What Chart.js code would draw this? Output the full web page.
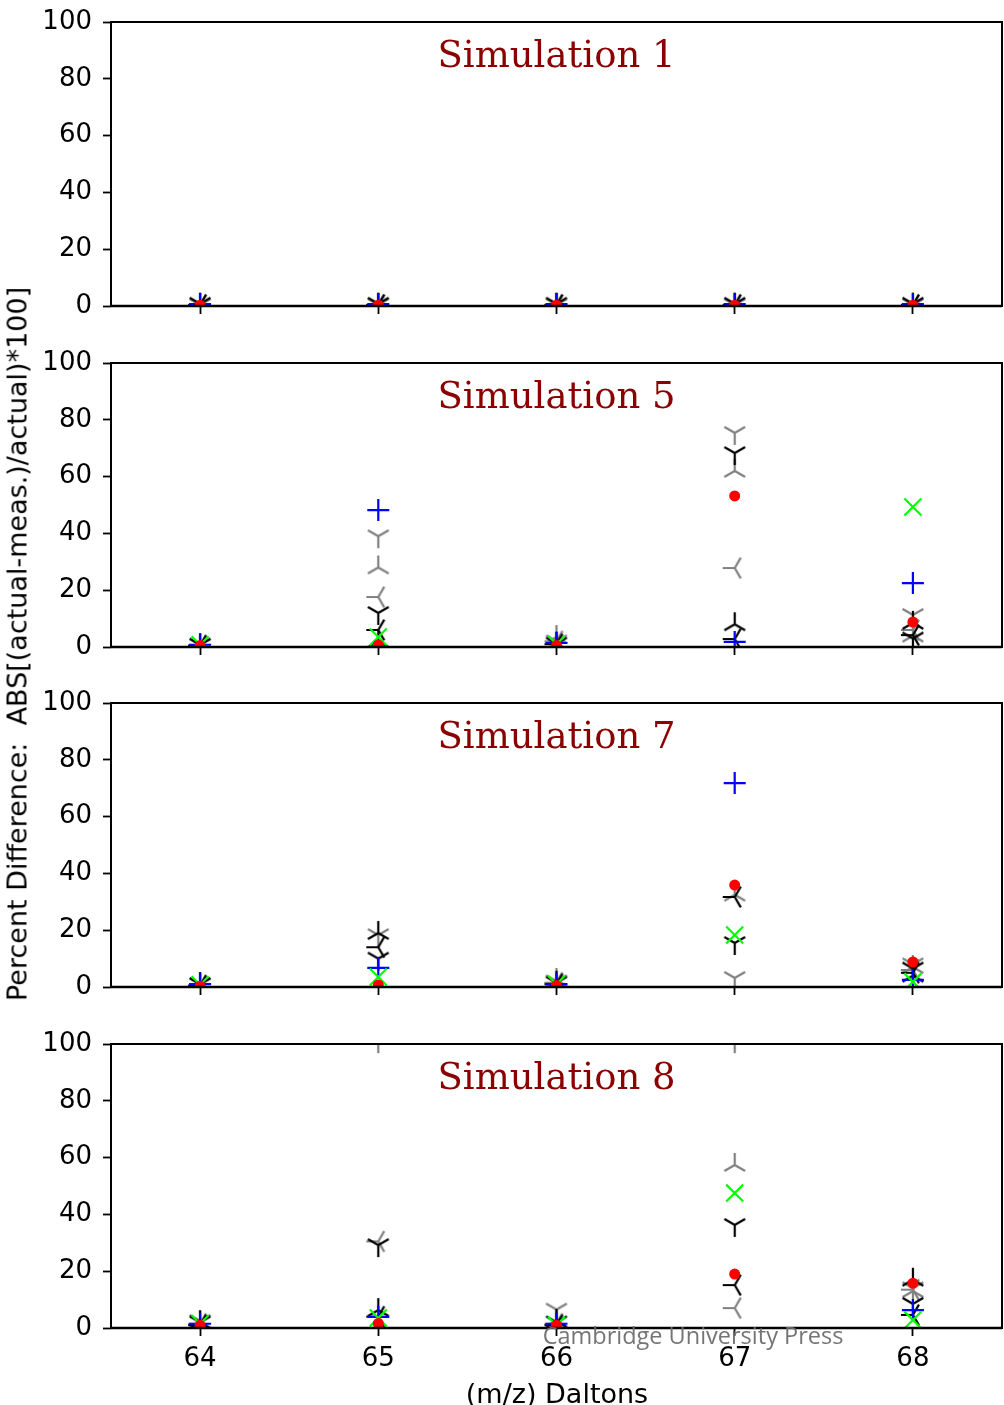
<!DOCTYPE html>
<html>
<head>
<meta charset="utf-8">
<script src="https://cdn.jsdelivr.net/npm/chart.js@4.4.1/dist/chart.umd.min.js"></script>
<style>
  html, body { margin: 0; padding: 0; background: #fff; }
  body { width: 1004px; height: 1405px; position: relative; overflow: hidden; font-family: "DejaVu Sans", sans-serif; }
  canvas.panel { position: absolute; left: 0; }
  #ylabel { position: absolute; left: 17px; top: 644px; transform: translate(-50%, -50%) rotate(-90deg); white-space: pre; font-size: 27px; color: #000; }
  #xlabel { position: absolute; left: 557px; top: 1393px; transform: translate(-50%, -50%); white-space: pre; font-size: 27px; color: #000; }
  #watermark { position: absolute; left: 693px; top: 1335px; transform: translate(-50%, -50%); white-space: pre; font-family: "Open Sans", sans-serif; font-size: 23.5px; color: rgba(110,110,110,0.95); }
</style>
</head>
<body>
<canvas class="panel" id="p1" width="1004" height="326" style="top:0px"></canvas>
<canvas class="panel" id="p2" width="1004" height="326" style="top:341px"></canvas>
<canvas class="panel" id="p3" width="1004" height="326" style="top:681px"></canvas>
<canvas class="panel" id="p4" width="1004" height="361" style="top:1022px"></canvas>
<div id="ylabel">Percent Difference:  ABS[(actual-meas.)/actual)*100]</div>
<div id="xlabel">(m/z) Daltons</div>
<div id="watermark">Cambridge University Press</div>
<script>
// ---------------- DATA ----------------
const categories = [64, 65, 66, 67, 68];
const yTicks = [0, 20, 40, 60, 80, 100];
const panelTitles = ['Simulation 1', 'Simulation 5', 'Simulation 7', 'Simulation 8'];

// Simulation 1
const sim1Red       = [0.3, 0.3, 0.3, 0.3, 0.3];
const sim1Green     = [null, null, null, null, null];
const sim1Blue      = [0.7, 0.7, 0.7, 0.7, 0.7];
const sim1BlackDown = [0.8, 0.8, 0.8, 0.8, 0.8];
const sim1BlackUp   = [0.5, 0.5, 0.5, 0.5, 0.5];
const sim1BlackLeft = [0.4, 0.4, 0.4, 0.4, 0.4];
const sim1GrayDown  = [0.4, 0.4, 0.4, 0.4, 0.4];
const sim1GrayUp    = [0.3, 0.3, 0.3, 0.3, 0.3];
const sim1GrayLeft  = [0.3, 0.3, 0.3, 0.3, 0.3];

// Simulation 5
const sim5Red       = [0.5, 0.7, 0.5, 53.2, 8.8];
const sim5Green     = [0.8, 3.5, 1.0, null, 49.3];
const sim5Blue      = [0.8, 48.2, 1.4, 1.8, 22.5];
const sim5BlackDown = [0.8, 12.0, 1.2, 68.3, 3.0];
const sim5BlackUp   = [0.6, 2.0, 1.2, 8.0, 8.5];
const sim5BlackLeft = [0.5, 6.0, 1.0, 2.8, 4.2];
const sim5GrayDown  = [0.8, 39.0, 2.0, 75.4, 11.3];
const sim5GrayUp    = [0.6, 28.0, 3.5, 62.0, 4.0];
const sim5GrayLeft  = [0.5, 17.6, 2.0, 27.8, 6.0];

// Simulation 7
const sim7Red       = [0.3, 0.7, 0.5, 35.9, 8.8];
const sim7Green     = [0.8, 3.5, 1.0, 18.3, 1.8];
const sim7Blue      = [1.0, 6.7, 1.0, 71.8, 2.5];
const sim7BlackDown = [1.0, 10.0, 1.5, 15.5, 6.5];
const sim7BlackUp   = [1.0, 19.0, 1.5, null, 4.0];
const sim7BlackLeft = [0.5, 14.0, 1.0, 31.7, 5.0];
const sim7GrayDown  = [1.0, 18.3, 2.0, 3.2, 8.0];
const sim7GrayUp    = [1.0, null, 2.5, 32.5, 7.0];
const sim7GrayLeft  = [0.5, null, 1.5, null, 6.0];

// Simulation 8
const sim8Red       = [1.0, 1.6, 1.0, 19.0, 15.8];
const sim8Green     = [1.5, 3.5, 1.0, 47.5, 2.8];
const sim8Blue      = [1.5, 3.9, 1.5, null, 6.3];
const sim8BlackDown = [2.0, 29.2, 2.0, 36.3, 8.5];
const sim8BlackUp   = [2.0, 6.3, 2.5, null, 17.0];
const sim8BlackLeft = [1.0, 4.0, 1.0, 15.1, 4.6];
const sim8GrayDown  = [2.5, 101.0, 6.5, 101.0, 14.0];
const sim8GrayUp    = [2.0, null, 2.0, 57.4, 13.0];
const sim8GrayLeft  = [1.5, 30.5, 1.5, 7.0, 13.5];

const panelSeries = [
  [sim1Red, sim1Green, sim1Blue, sim1BlackDown, sim1BlackUp, sim1BlackLeft, sim1GrayDown, sim1GrayUp, sim1GrayLeft],
  [sim5Red, sim5Green, sim5Blue, sim5BlackDown, sim5BlackUp, sim5BlackLeft, sim5GrayDown, sim5GrayUp, sim5GrayLeft],
  [sim7Red, sim7Green, sim7Blue, sim7BlackDown, sim7BlackUp, sim7BlackLeft, sim7GrayDown, sim7GrayUp, sim7GrayLeft],
  [sim8Red, sim8Green, sim8Blue, sim8BlackDown, sim8BlackUp, sim8BlackLeft, sim8GrayDown, sim8GrayUp, sim8GrayLeft]
];

// ---------------- STYLES ----------------
const TRI_R = 12;
function triCanvas(color, dir) {
  const S = 2 * TRI_R + 6;
  const c = document.createElement('canvas');
  c.width = S; c.height = S;
  const g = c.getContext('2d');
  g.strokeStyle = color; g.lineWidth = 2.2; g.lineCap = 'butt';
  const dirs = {
    down:  [[0, 1], [-0.866, -0.5], [0.866, -0.5]],
    up:    [[0, -1], [-0.866, 0.5], [0.866, 0.5]],
    left:  [[-1, 0], [0.5, -0.866], [0.5, 0.866]],
    right: [[1, 0], [-0.5, -0.866], [-0.5, 0.866]]
  }[dir];
  g.beginPath();
  dirs.forEach(([dx, dy]) => { g.moveTo(S / 2, S / 2); g.lineTo(S / 2 + dx * TRI_R, S / 2 + dy * TRI_R); });
  g.stroke();
  return c;
}

const seriesStyles = [
  { pointStyle: 'circle', pointRadius: 5.5, pointBackgroundColor: '#ff0000', pointBorderColor: '#ff0000', pointBorderWidth: 0 },
  { pointStyle: 'crossRot', pointRadius: 12, pointBackgroundColor: '#00ff00', pointBorderColor: '#00ff00', pointBorderWidth: 2.2 },
  { pointStyle: 'cross', pointRadius: 11, pointBackgroundColor: '#0000ff', pointBorderColor: '#0000ff', pointBorderWidth: 2.2 },
  { pointStyle: triCanvas('#000000', 'down'), pointRadius: TRI_R },
  { pointStyle: triCanvas('#000000', 'up'), pointRadius: TRI_R },
  { pointStyle: triCanvas('#000000', 'left'), pointRadius: TRI_R },
  { pointStyle: triCanvas('#808080', 'down'), pointRadius: TRI_R },
  { pointStyle: triCanvas('#808080', 'up'), pointRadius: TRI_R },
  { pointStyle: triCanvas('#808080', 'left'), pointRadius: TRI_R }
];

const framePlugin = {
  id: 'frame',
  afterDatasetsDraw(chart, args, opts) {
    const a = chart.chartArea, ctx = chart.ctx;
    ctx.save();
    ctx.strokeStyle = '#000';
    ctx.lineWidth = 2;
    ctx.strokeRect(a.left, a.top, a.right - a.left, a.bottom - a.top);
    ctx.lineWidth = 2.6;
    ctx.beginPath(); ctx.moveTo(a.left, a.bottom); ctx.lineTo(a.right, a.bottom); ctx.stroke();
    ctx.fillStyle = '#8b0000';
    ctx.font = '37px "DejaVu Serif", serif';
    ctx.textAlign = 'center';
    ctx.textBaseline = 'middle';
    ctx.fillText(opts.title, (a.left + a.right) / 2, a.top + 35);
    ctx.restore();
  }
};

function zeroPad(s) { s.paddingTop = 0; s.paddingBottom = 0; s.paddingLeft = 0; s.paddingRight = 0; }

function makePanel(id, idx, showX) {
  const bottomH = showX ? 55 : 20;
  const datasets = panelSeries[idx].map((vals, si) => Object.assign({
    data: categories.map((x, i) => ({ x: x, y: vals[i] })),
    showLine: false,
    clip: 0
  }, seriesStyles[si]));
  new Chart(document.getElementById(id), {
    type: 'scatter',
    data: { datasets },
    plugins: [framePlugin],
    options: {
      responsive: false,
      animation: false,
      devicePixelRatio: 1,
      layout: { autoPadding: false, padding: { top: 22, right: 2, left: 0, bottom: 0 } },
      plugins: { legend: { display: false }, tooltip: { enabled: false }, frame: { title: panelTitles[idx] } },
      scales: {
        x: {
          type: 'linear', min: 63.5, max: 68.5,
          afterBuildTicks: s => { s.ticks = categories.map(v => ({ value: v })); },
          afterFit: s => { s.height = bottomH; zeroPad(s); },
          border: { display: false },
          grid: { drawOnChartArea: false, tickColor: '#000', tickLength: 8, tickWidth: 1.8 },
          ticks: { display: showX, color: '#000', padding: 8, maxRotation: 0, font: { family: 'DejaVu Sans', size: 26 }, callback: v => String(v) }
        },
        y: {
          type: 'linear', min: 0, max: 100,
          afterBuildTicks: s => { s.ticks = yTicks.map(v => ({ value: v })); },
          afterFit: s => { s.width = 111; zeroPad(s); },
          border: { display: false },
          grid: { drawOnChartArea: false, tickColor: '#000', tickLength: 8, tickWidth: 1.8 },
          ticks: { color: '#000', padding: 11, font: { family: 'DejaVu Sans', size: 26 }, callback: v => String(v) }
        }
      }
    }
  });
}

makePanel('p1', 0, false);
makePanel('p2', 1, false);
makePanel('p3', 2, false);
makePanel('p4', 3, true);
</script>
</body>
</html>
